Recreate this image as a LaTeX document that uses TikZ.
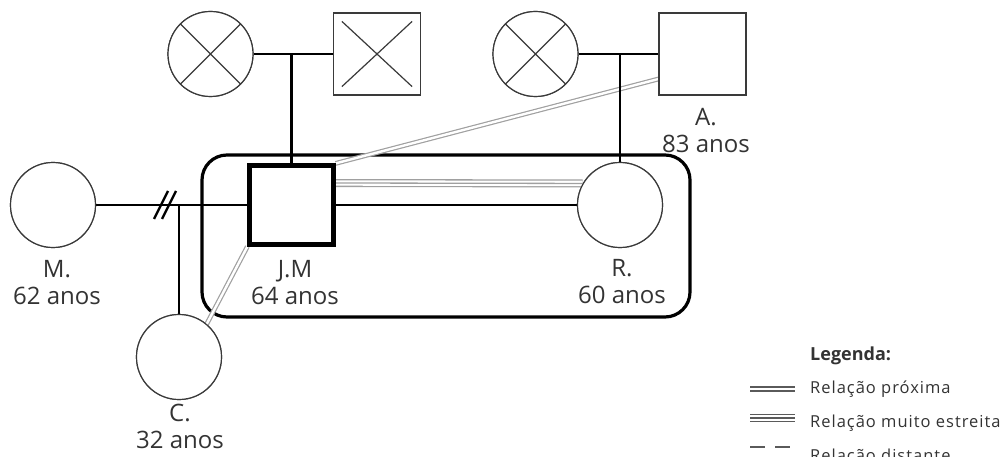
\documentclass[tikz,border=0pt]{standalone}
\usepackage{fontspec}
\setmainfont{Open Sans}
\newfontfamily\keyfont[LetterSpace=6]{Open Sans}
\usetikzlibrary{calc}
\definecolor{ink}{HTML}{333333}
\definecolor{edge}{HTML}{3A3A3A}
\definecolor{bond}{HTML}{A0A0A0}
\definecolor{keyline}{HTML}{5A5A5A}
\begin{document}
\begin{tikzpicture}[x=1pt,y=-1pt,
  person/.style={draw=edge, line width=1.2pt, fill=white, inner sep=0pt},
  fem/.style={person, circle, minimum size=85pt},
  male/.style={person, rectangle, minimum width=87pt, minimum height=82pt},
  index/.style={male, draw=black, line width=4.2pt, minimum width=84pt, minimum height=79pt},
  household/.style={draw=black, line width=3.2pt, rounded corners=25pt, minimum width=488pt, minimum height=162pt},
  tie/.style={draw=black, line width=2.4pt},
  cross/.style={draw=edge, line width=1.2pt},
  near/.style={draw=bond, line width=1.2pt, double=white, double distance=2.4pt},
  closest/.style={draw=bond, line width=1.3pt, double=white, double distance=5.4pt,
                  postaction={draw=bond, line width=1.3pt}},
  who/.style={font=\fontsize{24}{27}\selectfont, text=ink, align=center, inner sep=0pt, anchor=base},
  keytext/.style={font=\keyfont\fontsize{16.5}{18}\selectfont, text=ink, inner sep=0pt, anchor=base west},
]
\useasboundingbox (0,0) rectangle (1008,457);

% household frame
\node[household] (hh) at (446,236) {};

% grandparents and in-laws
\node[fem]  (gm) at (210.5,54) {};
\node[male] (gf) at (377,54) {};
\node[fem]  (rm) at (535.5,54) {};
\node[male] (a)  at (702.5,54) {};

% main generation
\node[fem]   (m)  at (53,205) {};
\node[index] (jm) at (291.5,205) {};
\node[fem]   (r)  at (620,205) {};
\node[fem]   (c)  at (179,357) {};

% emotional bonds
\draw[closest] ([yshift=22pt]jm.east) -- (r.150);
\draw[near] (jm.north east) -- ([yshift=-25pt]a.west);
\draw[near] (jm.south west) -- (c.50);

% couple and descent lines
\draw[tie] (gm) -- (gf);
\draw[tie] (jm.north |- gm) -- (jm.north);
\draw[tie] (rm) -- (a);
\draw[tie] (r.north |- rm) -- (r.north);
\draw[tie] (jm.east) -- (r.west);
\draw[tie] (m.east) -- (jm.west);
\coordinate (mj) at (c.north |- m.east);
\draw[tie] (mj) -- (c.north);
% divorce marks
\draw[tie] ($(mj)+(-25,14)$) -- ++(14,-28);
\draw[tie] ($(mj)+(-17,14)$) -- ++(14,-28);

% redraw persons on top of the bonds
\node[fem]   at (gm) {};
\node[male]  at (gf) {};
\node[fem]   at (rm) {};
\node[male]  at (a) {};
\node[fem]   at (m) {};
\node[index] at (jm) {};
\node[fem]   at (r) {};
\node[fem]   at (c) {};

% deceased marks
\draw[cross] (gm.45) -- (gm.225) (gm.135) -- (gm.-45);
\draw[cross] ([shift={(9pt,-9pt)}]gf.north west) -- ([shift={(-9pt,9pt)}]gf.south east)
             ([shift={(-9pt,-9pt)}]gf.north east) -- ([shift={(9pt,9pt)}]gf.south west);
\draw[cross] (rm.45) -- (rm.225) (rm.135) -- (rm.-45);

% names and ages (anchored at the baseline of the last line)
\node[who] (lm)  at (57,304)  {M.\\62 anos};
\node[who] (ljm) at (295,304) {J.M\\64 anos};
\node[who] (lr)  at (622,303) {R.\\60 anos};
\node[who] (lc)  at (180,448) {C.\\32 anos};
\node[who] (la)  at (706,153) {A.\\83 anos};

% legend
\node[keytext, font=\fontsize{18}{20}\selectfont\bfseries] (kt) at (810,360) {Legenda:};
\node[keytext] (k1) at (810,393) {Relação próxima};
\node[keytext] (k2) at (810,427) {Relação muito estreita};
\node[keytext] (k3) at (810,461) {Relação distante};
\coordinate (k1a) at (750,389);
\coordinate (k2a) at (750,418);
\coordinate (k3a) at (750,447);
\draw[near, draw=keyline, line width=1.4pt] (k1a) -- (k1a -| 795,0);
\draw[closest, draw=keyline, line width=1.6pt, postaction={draw=keyline, line width=1.6pt}] (k2a) -- (k2a -| 795,0);
\draw[draw=keyline, line width=1.4pt, dash pattern=on 15pt off 10pt] (k3a) -- (k3a -| 795,0);
\end{tikzpicture}
\end{document}
